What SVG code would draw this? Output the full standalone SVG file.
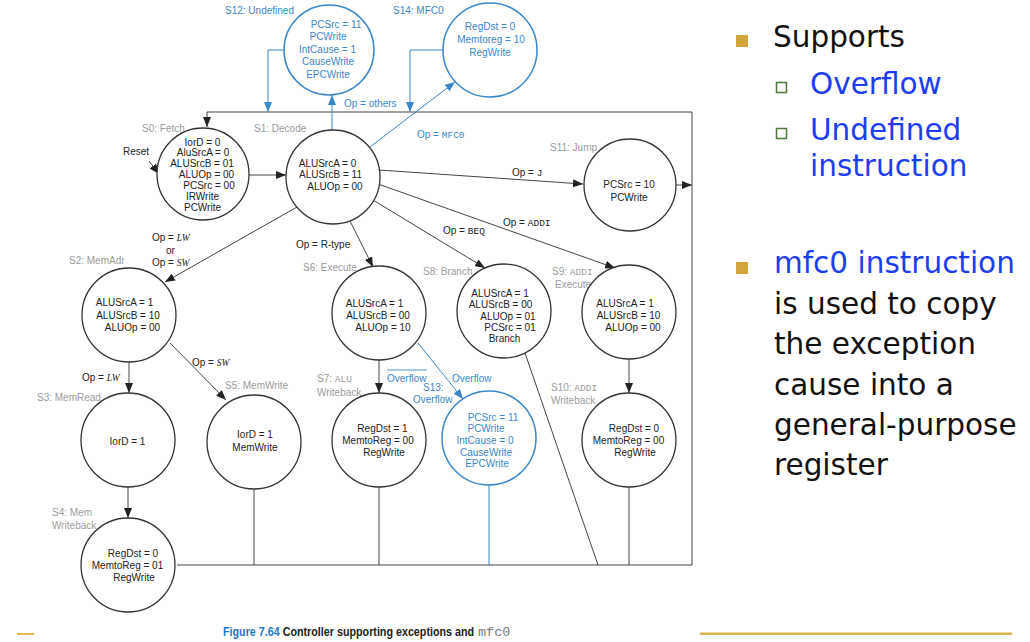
<svg xmlns="http://www.w3.org/2000/svg" width="1030" height="642" viewBox="0 0 1030 642">
  <style>
    .st circle { fill: #fff; stroke: #333; stroke-width: 1.3; }
    .ex circle { fill: #fff; stroke: #3b87c9; stroke-width: 1.5; }
    .t { font-family: "Liberation Sans", Arial, sans-serif; font-size: 10px; fill: #222; text-anchor: middle; }
    .ex .t { fill: #3b87c9; }
    .lbl { font-family: "Liberation Sans", Arial, sans-serif; font-size: 10px; fill: #9b9b9b; }
    .lblb { font-family: "Liberation Sans", Arial, sans-serif; font-size: 10px; fill: #3b87c9; }
    .op { font-family: "Liberation Sans", Arial, sans-serif; font-size: 10px; fill: #222; }
    .opb { font-family: "Liberation Sans", Arial, sans-serif; font-size: 10px; fill: #3b87c9; }
    .mono { font-family: "Liberation Mono", "DejaVu Sans Mono", monospace; font-size: 9.5px; }
    .it { font-family: "Liberation Serif", serif; font-style: italic; font-size: 9.5px; }
    .c { fill: none; stroke: #444; stroke-width: 1; }
    .cb { fill: none; stroke: #3b87c9; stroke-width: 1; }
    .slide { font-family: "DejaVu Sans", Verdana, sans-serif; font-size: 29.5px; }
    .cap { font-family: "Liberation Sans", Arial, sans-serif; font-weight: bold; font-size: 12.5px; }
  </style>
  <defs>
    <marker id="ah" markerUnits="userSpaceOnUse" markerWidth="10" markerHeight="8" refX="10" refY="4" orient="auto">
      <path d="M0,0 L10,4 L0,8 z" fill="#222"/>
    </marker>
    <marker id="ahb" markerUnits="userSpaceOnUse" markerWidth="10" markerHeight="8" refX="10" refY="4" orient="auto">
      <path d="M0,0 L10,4 L0,8 z" fill="#3b87c9"/>
    </marker>
  </defs>

  <rect width="1030" height="642" fill="#fff"/>

  <!-- connectors -->
  <g id="connectors">
    <!-- return path to Fetch -->
    <path class="c" d="M177,565 H692 V112 H207 V127" marker-end="url(#ah)"/>
    <!-- final states down to the return path -->
    <line class="c" x1="254" y1="489" x2="254" y2="565"/>
    <line class="c" x1="379" y1="487" x2="379" y2="565"/>
    <line class="cb" x1="489" y1="485" x2="489" y2="565"/>
    <line class="c" x1="629" y1="487" x2="629" y2="565"/>
    <line class="c" x1="525" y1="353" x2="598" y2="565"/>
    <line class="c" x1="676" y1="185" x2="692" y2="185" marker-end="url(#ah)"/>
    <!-- reset and fetch -> decode -->
    <line class="c" x1="149" y1="161" x2="159" y2="174" marker-end="url(#ah)"/>
    <line class="c" x1="249" y1="175" x2="286" y2="175" marker-end="url(#ah)"/>
    <!-- exception paths -->
    <line class="cb" x1="332" y1="130" x2="332" y2="95" marker-end="url(#ahb)"/>
    <path class="cb" d="M284,50 H268 V112" marker-end="url(#ahb)"/>
    <path class="cb" d="M443,50 H410 V112" marker-end="url(#ahb)"/>
    <line class="cb" x1="370" y1="147" x2="455" y2="82" marker-end="url(#ahb)"/>
    <!-- decode branches -->
    <line class="c" x1="379" y1="170" x2="583" y2="184" marker-end="url(#ah)"/>
    <line class="c" x1="378" y1="184" x2="615" y2="268" marker-end="url(#ah)"/>
    <line class="c" x1="373" y1="200" x2="485" y2="268" marker-end="url(#ah)"/>
    <line class="c" x1="350" y1="221" x2="373" y2="267" marker-end="url(#ah)"/>
    <line class="c" x1="297" y1="207" x2="165" y2="282" marker-end="url(#ah)"/>
    <!-- memory path -->
    <line class="c" x1="129" y1="362" x2="129" y2="393" marker-end="url(#ah)"/>
    <line class="c" x1="170" y1="343" x2="226" y2="400" marker-end="url(#ah)"/>
    <line class="c" x1="128" y1="487" x2="128" y2="518" marker-end="url(#ah)"/>
    <!-- execute paths -->
    <line class="c" x1="379" y1="360" x2="379" y2="393" marker-end="url(#ah)"/>
    <line class="cb" x1="418" y1="343" x2="463" y2="399" marker-end="url(#ahb)"/>
    <line class="c" x1="629" y1="359" x2="629" y2="393" marker-end="url(#ah)"/>

    <!-- connector labels -->
    <text class="op" x="123" y="154.5">Reset</text>
    <text class="opb" x="344" y="106.5">Op = others</text>
    <text class="opb" x="417" y="138">Op = <tspan class="mono">MFC0</tspan></text>
    <text class="op" x="512" y="176">Op = <tspan class="mono">J</tspan></text>
    <text class="op" x="503" y="226">Op = <tspan class="mono">ADDI</tspan></text>
    <text class="op" x="443" y="234">Op = <tspan class="mono">BEQ</tspan></text>
    <text class="op" x="296" y="247.5">Op = R-type</text>
    <text class="op" x="152" y="240.5">Op = <tspan class="it">LW</tspan></text>
    <text class="op" x="166" y="253.5">or</text>
    <text class="op" x="152" y="265.5">Op = <tspan class="it">SW</tspan></text>
    <text class="op" x="82" y="381">Op = <tspan class="it">LW</tspan></text>
    <text class="op" x="192" y="365.5">Op = <tspan class="it">SW</tspan></text>
    <text class="opb" x="387" y="381.5">Overflow</text>
    <line x1="387" y1="370" x2="427" y2="370" stroke="#3b87c9" stroke-width="0.9"/>
    <text class="opb" x="452" y="381.5">Overflow</text>
  </g>

  <!-- state labels -->
  <g id="state-labels">
    <text class="lbl" x="142" y="132">S0: Fetch</text>
    <text class="lbl" x="254" y="132">S1: Decode</text>
    <text class="lblb" x="225" y="13.5">S12: Undefined</text>
    <text class="lblb" x="393" y="13.5">S14: MFC0</text>
    <text class="lbl" x="550" y="150.5">S11: Jump</text>
    <text class="lbl" x="69" y="263.5">S2: MemAdr</text>
    <text class="lbl" x="303" y="270.5">S6: Execute</text>
    <text class="lbl" x="423" y="275">S8: Branch</text>
    <text class="lbl" x="552" y="275">S9: <tspan class="mono">ADDI</tspan></text>
    <text class="lbl" x="555" y="287.5">Execute</text>
    <text class="lbl" x="225" y="388.5">S5: MemWrite</text>
    <text class="lbl" x="37" y="400.5">S3: MemRead</text>
    <text class="lbl" x="52" y="516">S4: Mem</text>
    <text class="lbl" x="52" y="528.5">Writeback</text>
    <text class="lbl" x="317" y="381.5">S7: <tspan class="mono">ALU</tspan></text>
    <text class="lbl" x="317" y="395.5">Writeback</text>
    <text class="lblb" x="423" y="390.5">S13:</text>
    <text class="lblb" x="413" y="403">Overflow</text>
    <text class="lbl" x="551" y="390.5">S10: <tspan class="mono">ADDI</tspan></text>
    <text class="lbl" x="551" y="403.5">Writeback</text>
  </g>

  <!-- states -->
  <g id="S0" class="st">
    <circle cx="203" cy="174" r="46"/>
    <text class="t" x="202.5" y="145.5">IorD = 0</text>
    <text class="t" x="203" y="156">AluSrcA = 0</text>
    <text class="t" x="202" y="166.5">ALUSrcB = 01</text>
    <text class="t" x="206.5" y="177.5">ALUOp = 00</text>
    <text class="t" x="209" y="188.5">PCSrc = 00</text>
    <text class="t" x="202.5" y="200">IRWrite</text>
    <text class="t" x="202.5" y="211">PCWrite</text>
  </g>
  <g id="S1" class="st">
    <circle cx="333" cy="177" r="47"/>
    <text class="t" x="327.5" y="166.5">ALUSrcA = 0</text>
    <text class="t" x="330.5" y="177.5">ALUSrcB = 11</text>
    <text class="t" x="335" y="189.5">ALUOp = 00</text>
  </g>
  <g id="S12" class="ex">
    <circle cx="329" cy="50" r="45"/>
    <text class="t" x="336" y="27.5">PCSrc = 11</text>
    <text class="t" x="328" y="40">PCWrite</text>
    <text class="t" x="327.5" y="52.5">IntCause = 1</text>
    <text class="t" x="328" y="65">CauseWrite</text>
    <text class="t" x="328" y="77.5">EPCWrite</text>
  </g>
  <g id="S14" class="ex">
    <circle cx="490" cy="50" r="47"/>
    <text class="t" x="490" y="30">RegDst = 0</text>
    <text class="t" x="491" y="43">Memtoreg = 10</text>
    <text class="t" x="490" y="55.5">RegWrite</text>
  </g>
  <g id="S11" class="st">
    <circle cx="630" cy="185" r="46"/>
    <text class="t" x="629" y="188">PCSrc = 10</text>
    <text class="t" x="629" y="200.5">PCWrite</text>
  </g>
  <g id="S2" class="st">
    <circle cx="129" cy="315" r="47"/>
    <text class="t" x="124.5" y="305.5">ALUSrcA = 1</text>
    <text class="t" x="128" y="318.5">ALUSrcB = 10</text>
    <text class="t" x="132.5" y="330.5">ALUOp = 00</text>
  </g>
  <g id="S6" class="st">
    <circle cx="379" cy="313" r="47"/>
    <text class="t" x="374.5" y="306.5">ALUSrcA = 1</text>
    <text class="t" x="378" y="318.5">ALUSrcB = 00</text>
    <text class="t" x="383" y="330.5">ALUOp = 10</text>
  </g>
  <g id="S8" class="st">
    <circle cx="504" cy="311" r="47"/>
    <text class="t" x="500" y="296.5">ALUSrcA = 1</text>
    <text class="t" x="500.5" y="307.5">ALUSrcB = 00</text>
    <text class="t" x="508" y="319.5">ALUOp = 01</text>
    <text class="t" x="510" y="330.5">PCSrc = 01</text>
    <text class="t" x="504.5" y="341.5">Branch</text>
  </g>
  <g id="S9" class="st">
    <circle cx="629" cy="312" r="47"/>
    <text class="t" x="625" y="306.5">ALUSrcA = 1</text>
    <text class="t" x="628.5" y="318.5">ALUSrcB = 10</text>
    <text class="t" x="633" y="330.5">ALUOp = 00</text>
  </g>
  <g id="S3" class="st">
    <circle cx="128" cy="440" r="47"/>
    <text class="t" x="127.5" y="444.5">IorD = 1</text>
  </g>
  <g id="S5" class="st">
    <circle cx="254" cy="442" r="47"/>
    <text class="t" x="255" y="437.5">IorD = 1</text>
    <text class="t" x="255" y="450.5">MemWrite</text>
  </g>
  <g id="S7" class="st">
    <circle cx="379" cy="440" r="47"/>
    <text class="t" x="382.5" y="431.5">RegDst = 1</text>
    <text class="t" x="378" y="443.5">MemtoReg = 00</text>
    <text class="t" x="384" y="455.5">RegWrite</text>
  </g>
  <g id="S13" class="ex">
    <circle cx="489" cy="438" r="47"/>
    <text class="t" x="493" y="420.5">PCSrc = 11</text>
    <text class="t" x="486" y="431.5">PCWrite</text>
    <text class="t" x="485" y="443.5">IntCause = 0</text>
    <text class="t" x="486" y="455.5">CauseWrite</text>
    <text class="t" x="487" y="467">EPCWrite</text>
  </g>
  <g id="S10" class="st">
    <circle cx="629" cy="440" r="47"/>
    <text class="t" x="634" y="431.5">RegDst = 0</text>
    <text class="t" x="628.5" y="443.5">MemtoReg = 00</text>
    <text class="t" x="635" y="455.5">RegWrite</text>
  </g>
  <g id="S4" class="st">
    <circle cx="128" cy="565" r="47"/>
    <text class="t" x="133" y="556.5">RegDst = 0</text>
    <text class="t" x="127.5" y="568.5">MemtoReg = 01</text>
    <text class="t" x="134" y="580.5">RegWrite</text>
  </g>

  <!-- caption: narrow bold face, squeezed horizontally -->
  <text class="cap" transform="translate(223,636) scale(0.86,1)"><tspan fill="#1f78c8">Figure 7.64</tspan><tspan fill="#222"> Controller supporting exceptions and</tspan></text>
  <text x="478" y="636" font-family="Liberation Mono, monospace" font-size="13.5px" fill="#777">mfc0</text>

  <!-- slide notes -->
  <g id="notes">
    <rect x="736" y="35" width="12" height="12" fill="#d4a53c"/>
    <text class="slide" x="773" y="47" fill="#111">Supports</text>
    <rect x="776.5" y="82.5" width="10" height="10" fill="#fff" stroke="#4d7a3b" stroke-width="1.5"/>
    <text class="slide" x="810" y="94" fill="#1d3df0">Overflow</text>
    <rect x="776.5" y="128.5" width="10" height="10" fill="#fff" stroke="#4d7a3b" stroke-width="1.5"/>
    <text class="slide" x="810" y="140" fill="#1d3df0">Undefined</text>
    <text class="slide" x="810" y="176" fill="#1d3df0">instruction</text>
    <rect x="736" y="262" width="12" height="12" fill="#d4a53c"/>
    <text class="slide" x="774" y="273" fill="#1d3df0">mfc0 instruction</text>
    <text class="slide" x="774" y="314" fill="#111">is used to copy</text>
    <text class="slide" x="774" y="354" fill="#111">the exception</text>
    <text class="slide" x="774" y="395" fill="#111">cause into a</text>
    <text class="slide" x="774" y="435" fill="#111">general-purpose</text>
    <text class="slide" x="774" y="475" fill="#111">register</text>
  </g>

  <!-- page rules -->
  <rect x="700" y="632.5" width="312" height="2.5" fill="#d9b34a"/>
  <rect x="17" y="633" width="17" height="2" fill="#e0b84a"/>
</svg>
